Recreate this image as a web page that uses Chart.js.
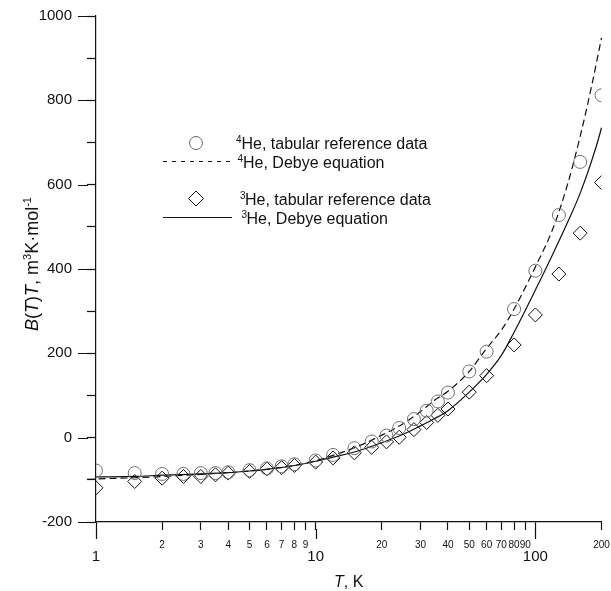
<!DOCTYPE html>
<html>
<head>
  <meta charset="utf-8">
  <title>B(T)T helio</title>
  <script src="https://cdn.jsdelivr.net/npm/chart.js"></script>
  <style>
    body { margin: 0; background: #fff; }
    #wrap { width: 611px; height: 591px; position: relative; }
  </style>
</head>
<body>
<div id="wrap"><canvas id="grafico"></canvas></div>
<script>
  // valores
  var tempTab = [1, 1.5, 2, 2.5, 3, 3.5, 4, 5, 6, 7, 8, 10, 12, 15, 18, 21, 24, 28, 32, 36, 40, 50, 60, 80, 100, 128, 160, 200];
  var he4Tab = [-78, -84, -86, -86, -84, -84, -82, -77, -73, -68, -63, -54, -41, -25, -9, 5, 23, 44, 64, 86, 107, 157, 204, 305, 396, 528, 654, 812];
  var he3Tab = [-119, -104, -96, -92, -92, -88, -84, -80, -74, -71, -66, -58, -48, -36, -23, -10, 1, 19, 36, 53, 68, 108, 147, 220, 291, 388, 485, 605];

  var tempDebye4 = [0.915, 1, 1.5, 2, 3, 4, 5, 6, 8, 10, 12, 15, 20, 25, 30, 35, 40, 50, 60, 70, 80, 100, 120, 140, 160, 180, 200];
  var he4Debye = [-99, -98, -95, -92, -87, -83, -79, -75, -66, -55, -42, -24, 6, 33, 62, 90, 110, 157, 212, 255, 305, 405, 495, 600, 715, 832, 948];

  var tempDebye3 = [1, 1.5, 2, 3, 4, 5, 6, 8, 10, 12, 15, 20, 25, 30, 35, 40, 50, 60, 70, 80, 100, 120, 140, 160, 180, 200, 215];
  var he3Debye = [-93, -92, -89, -86, -83, -79, -75, -66, -56, -46, -34, -12, 8, 28, 46, 64, 108, 150, 195, 250, 350, 435, 510, 580, 655, 735, 810];

  var xTicks = [1, 2, 3, 4, 5, 6, 7, 8, 9, 10, 20, 30, 40, 50, 60, 70, 80, 90, 100, 200];
  var xMajor = [1, 10, 100];
  var yTicks = [-200, -100, 0, 100, 200, 300, 400, 500, 600, 700, 800, 900, 1000];
  var yMajor = [-200, 0, 200, 400, 600, 800, 1000];

  var fonte = '"Liberation Sans", Arial, Helvetica, sans-serif';

  function pares(xs, ys) {
    return xs.map(function (x, i) { return { x: x, y: ys[i] }; });
  }

  // escreve pedacos de texto com fontes diferentes (italico, expoente)
  function larguraTrechos(ctx, trechos) {
    var w = 0;
    trechos.forEach(function (t) { ctx.font = t.f; w += ctx.measureText(t.t).width; });
    return w;
  }
  function escreverTrechos(ctx, trechos, x, y) {
    trechos.forEach(function (t) {
      ctx.font = t.f;
      ctx.fillText(t.t, x, y + (t.dy || 0));
      x += ctx.measureText(t.t).width;
    });
  }

  var normal16 = '16px ' + fonte, ital16 = 'italic 16px ' + fonte, sup10 = '10px ' + fonte;
  var normal18 = '18px ' + fonte, ital18 = 'italic 18px ' + fonte, sup11 = '11px ' + fonte;

  var extras = {
    id: 'extras',
    afterDraw: function (chart) {
      var ctx = chart.ctx;
      var sx = chart.scales.x, sy = chart.scales.y;
      ctx.save();
      ctx.strokeStyle = '#111';
      ctx.lineWidth = 1.2;
      ctx.beginPath();
      // ticks maiores mais compridos
      xMajor.forEach(function (v) {
        var px = Math.round(sx.getPixelForValue(v)) + 0.5;
        ctx.moveTo(px, sx.top + 7);
        ctx.lineTo(px, sx.top + 17);
      });
      yMajor.forEach(function (v) {
        var py = Math.round(sy.getPixelForValue(v)) + 0.5;
        ctx.moveTo(sy.right - 18, py);
        ctx.lineTo(sy.right - 8, py);
      });
      ctx.stroke();

      ctx.fillStyle = '#111';
      ctx.textBaseline = 'alphabetic';
      ctx.textAlign = 'left';

      // titulo eixo x
      var tx = [{ t: 'T', f: ital16 }, { t: ', K', f: normal16 }];
      var cx = (chart.chartArea.left + chart.chartArea.right) / 2;
      escreverTrechos(ctx, tx, cx - larguraTrechos(ctx, tx) / 2, 587);

      // titulo eixo y
      var ty = [
        { t: 'B', f: ital18 }, { t: '(', f: normal18 }, { t: 'T', f: ital18 },
        { t: ')', f: normal18 }, { t: 'T', f: ital18 }, { t: ', m', f: normal18 },
        { t: '3', f: sup11, dy: -7 }, { t: 'K\u00b7mol', f: normal18 }, { t: '-1', f: sup11, dy: -7 }
      ];
      ctx.save();
      ctx.translate(38, 264);
      ctx.rotate(-Math.PI / 2);
      escreverTrechos(ctx, ty, -larguraTrechos(ctx, ty) / 2, 0);
      ctx.restore();

      // legenda
      var linhas = [
        { y: 143, sup: '4', xs: 236, xt: 241.5, txt: 'He, tabular reference data' },
        { y: 161.5, sup: '4', xs: 237.5, xt: 243, txt: 'He, Debye equation' },
        { y: 198.5, sup: '3', xs: 240, xt: 245, txt: 'He, tabular reference data' },
        { y: 217.5, sup: '3', xs: 241.5, xt: 246.5, txt: 'He, Debye equation' }
      ];
      linhas.forEach(function (l) {
        escreverTrechos(ctx, [{ t: l.sup, f: sup10, dy: -6 }], l.xs, l.y + 6);
        escreverTrechos(ctx, [{ t: l.txt, f: normal16 }], l.xt, l.y + 6);
      });
      ctx.lineWidth = 1.2;
      ctx.strokeStyle = '#111';
      ctx.setLineDash([4, 5]);
      ctx.beginPath();
      ctx.moveTo(163, 161.5); ctx.lineTo(230, 161.5);
      ctx.stroke();
      ctx.setLineDash([]);
      ctx.beginPath();
      ctx.moveTo(163, 217.5); ctx.lineTo(232, 217.5);
      ctx.stroke();
      ctx.lineWidth = 1;
      ctx.strokeStyle = '#666';
      ctx.beginPath();
      ctx.arc(196, 143, 6.5, 0, Math.PI * 2);
      ctx.stroke();
      ctx.strokeStyle = '#111';
      ctx.beginPath();
      ctx.moveTo(196, 191); ctx.lineTo(203.5, 198.5); ctx.lineTo(196, 206); ctx.lineTo(188.5, 198.5);
      ctx.closePath();
      ctx.stroke();
      ctx.restore();
    }
  };

  var config = {
    type: 'scatter',
    data: {
      datasets: [
        {
          label: '4He, tabular reference data',
          data: pares(tempTab, he4Tab),
          pointStyle: 'circle',
          pointRadius: 6.5,
          borderColor: '#707070',
          backgroundColor: 'rgba(0,0,0,0)',
          borderWidth: 1
        },
        {
          label: '4He, Debye equation',
          data: pares(tempDebye4, he4Debye),
          showLine: true,
          pointRadius: 0,
          borderColor: '#111',
          borderWidth: 1.2,
          borderDash: [7, 4],
          cubicInterpolationMode: 'monotone',
          clip: false
        },
        {
          label: '3He, tabular reference data',
          data: pares(tempTab, he3Tab),
          pointStyle: 'rectRot',
          pointRadius: 7,
          borderColor: '#111',
          backgroundColor: 'rgba(0,0,0,0)',
          borderWidth: 1
        },
        {
          label: '3He, Debye equation',
          data: pares(tempDebye3, he3Debye),
          showLine: true,
          pointRadius: 0,
          borderColor: '#111',
          borderWidth: 1.2,
          cubicInterpolationMode: 'monotone',
          clip: false
        }
      ]
    },
    options: {
      responsive: true,
      maintainAspectRatio: false,
      animation: false,
      events: [],
      layout: { autoPadding: false, padding: { top: 16, right: 9.5, left: 0, bottom: 0 } },
      plugins: { legend: { display: false }, tooltip: { enabled: false } },
      scales: {
        x: {
          type: 'logarithmic',
          min: 1,
          max: 200,
          border: { color: '#111', width: 1.2 },
          grid: { drawOnChartArea: false, tickLength: 8, tickColor: '#111', tickWidth: 1.2 },
          afterBuildTicks: function (s) { s.ticks = xTicks.map(function (v) { return { value: v }; }); },
          afterFit: function (s) { s.height = 69; s.paddingLeft = 0; s.paddingRight = 0; },
          ticks: {
            autoSkip: false,
            maxRotation: 0,
            minRotation: 0,
            padding: 9,
            color: '#111',
            callback: function (v) { return String(v); },
            font: function (c) {
              var v = c.tick ? c.tick.value : 0;
              if (xMajor.indexOf(v) >= 0) return { family: fonte, size: 15, lineHeight: 2.37 };
              return { family: fonte, size: 10, lineHeight: 1.2 };
            }
          }
        },
        y: {
          min: -200,
          max: 1000,
          border: { color: '#111', width: 1.2 },
          grid: { drawOnChartArea: false, tickLength: 9, tickColor: '#111', tickWidth: 1.2 },
          afterBuildTicks: function (s) { s.ticks = yTicks.map(function (v) { return { value: v }; }); },
          afterFit: function (s) { s.width = 96; s.paddingTop = 0; s.paddingBottom = 0; },
          ticks: {
            padding: 15,
            color: '#111',
            font: { family: fonte, size: 15 },
            callback: function (v) { return yMajor.indexOf(v) >= 0 ? String(v) : ''; }
          }
        }
      }
    },
    plugins: [extras]
  };

  new Chart(document.getElementById('grafico'), config);
</script>
</body>
</html>
